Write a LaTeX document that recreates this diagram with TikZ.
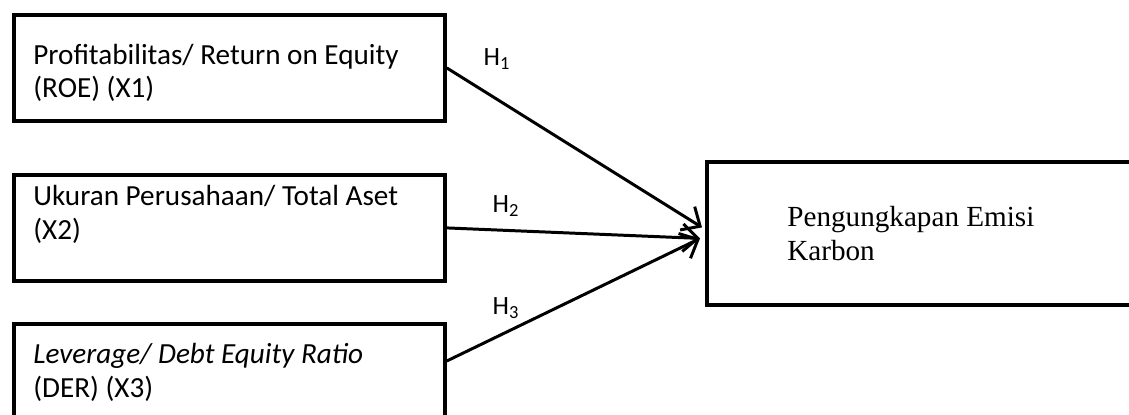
\documentclass[tikz,border=0pt]{standalone}
\usepackage{fontspec}
\setmainfont{Carlito}
\newfontfamily\timesfont{Liberation Serif}
\usetikzlibrary{arrows.meta,calc}

\begin{document}
\begin{tikzpicture}[x=0.02cm,y=-0.02cm,
  varbox/.style={draw, line width=2.2pt, minimum width=8.62cm, minimum height=2.12cm, anchor=north west},
  hyp/.style={line width=1.7pt, -{Straight Barb[length=3mm,width=5.5mm,line width=1.7pt]}}]
\useasboundingbox (0,0) rectangle (1129,415);
\clip (0,0) rectangle (1129,415);
\begin{scope}[every node/.style={font=\fontsize{16.6}{18.8}\selectfont, inner sep=0pt}]

% variable boxes
\node [varbox] (roe) at (12,13)  {};
\node [varbox] (ta)  at (12,173) {};
\node [varbox] (der) at (12,322) {};
\node [varbox, minimum width=9.2cm, minimum height=2.86cm] (emisi) at (705,160) {};

\node [anchor=base west, align=left] (troe) at (33,98)  {Profitabilitas/ Return on Equity\\(ROE) (X1)};
\node [anchor=base west, align=left] (tta)  at (33,239) {Ukuran Perusahaan/ Total Aset\\(X2)};
\node [anchor=base west, align=left] (tder) at (33,397) {\textit{Leverage/ Debt Equity Ratio}\\(DER) (X3)};
\node [anchor=base west, align=left, font=\timesfont\fontsize{16.6}{19.2}\selectfont] (temisi) at (787,260) {Pengungkapan Emisi\\Karbon};

% hypotheses
\coordinate (end1) at ($(emisi.west)+(-3,-6)$);
\coordinate (end2) at ($(emisi.west)+(-5,5)$);
\coordinate (start3) at ($(der.north east)+(0,39)$);

\draw [hyp] (roe.east) -- (end1);
\draw [hyp] (ta.east)  -- (end2);
\draw [hyp] (start3)   -- (end2);

\node [anchor=base, font=\fontsize{15}{17}\selectfont] (h1) at (497,66)  {H\textsubscript{1}};
\node [anchor=base, font=\fontsize{15}{17}\selectfont] (h2) at (506,213) {H\textsubscript{2}};
\node [anchor=base, font=\fontsize{15}{17}\selectfont] (h3) at (506,315) {H\textsubscript{3}};

\end{scope}
\end{tikzpicture}
\end{document}
